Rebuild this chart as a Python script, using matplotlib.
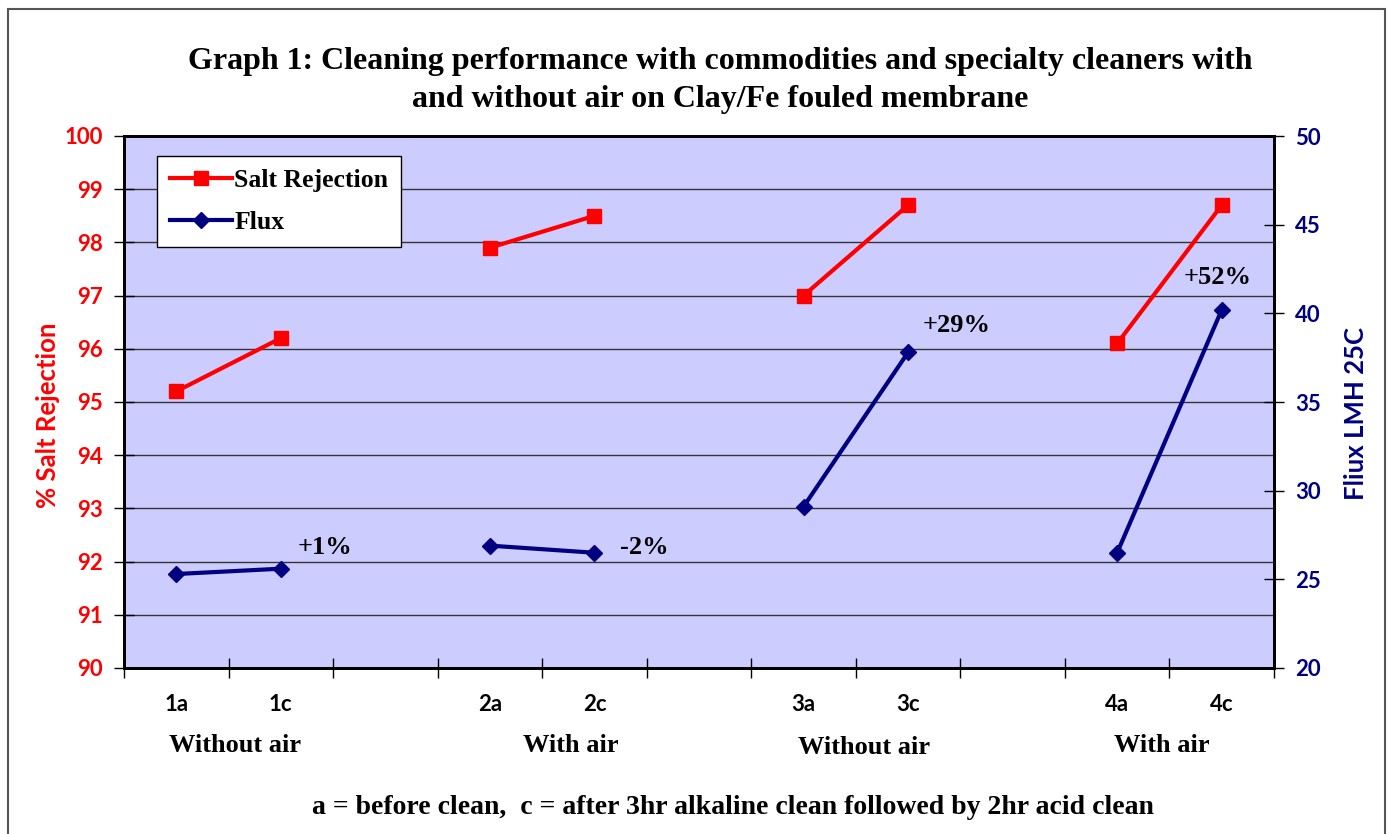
import matplotlib
matplotlib.use('Agg')
import matplotlib.pyplot as plt
import matplotlib.transforms as mtransforms
from matplotlib.patches import Rectangle
import numpy as np

# data
categories = ['1a', '1c', '', '2a', '2c', '', '3a', '3c', '', '4a', '4c']
salt_rej = [95.2, 96.2, None, 97.9, 98.5, None, 97.0, 98.7, None, 96.1, 98.7]
flux = [25.3, 25.6, None, 26.9, 26.5, None, 29.1, 37.8, None, 26.5, 40.2]
groups = ['Without air', 'With air', 'Without air', 'With air']
group_x = [0.56, 3.77, 6.58, 9.43]
changes = ['+1%', '-2%', '+29%', '+52%']
change_idx = [1, 4, 7, 10]

serif = 'Liberation Serif'
sans = 'Lato'
navy = '#000080'

fig = plt.figure(figsize=(13.93, 8.34), dpi=100)
fig.patches.append(Rectangle((8/1393, -0.05), 1377/1393, 1 - 9/834 + 0.05,
                             transform=fig.transFigure, fill=False,
                             edgecolor='#555555', linewidth=1.5))

ax = fig.add_axes([124/1393, 1 - 668/834, 1150/1393, 532/834])
ax.set_facecolor('#CCCCFF')
ax2 = ax.twinx()

x = np.arange(len(categories))
sr = np.array([np.nan if v is None else v for v in salt_rej], dtype=float)
fl = np.array([np.nan if v is None else v for v in flux], dtype=float)

l1, = ax.plot(x, sr, color='red', lw=3, marker='s', markersize=10,
              label='Salt Rejection', zorder=3)
l2, = ax2.plot(x, fl, color=navy, lw=3, marker='D', markersize=8,
               label='Flux', zorder=3)

ax.set_xlim(-0.5, len(categories) - 0.5)
ax.set_ylim(90, 100)
ax2.set_ylim(20, 50)
ax.set_yticks(np.arange(90, 101, 1))
ax2.set_yticks(np.arange(20, 51, 5))
ax.grid(axis='y', color='#333333', lw=1)
ax.set_axisbelow(True)

ax.set_xticks(x)
ax.set_xticklabels(categories, fontfamily=sans, fontweight='bold', fontsize=16)
ax.tick_params(axis='x', which='major', length=0, pad=19)
ax.set_xticks(np.arange(-0.5, len(categories), 1), minor=True)
ax.tick_params(axis='x', which='minor', direction='inout', length=14, width=1)
ax.tick_params(axis='y', direction='inout', length=14, width=1, labelcolor='red',
               labelsize=16, pad=8)
ax2.tick_params(axis='y', direction='inout', length=14, width=1, labelcolor=navy,
                labelsize=16, pad=8)
for lab in ax.get_yticklabels() + ax2.get_yticklabels():
    lab.set_fontfamily(sans)
    lab.set_fontweight('bold')

for a in (ax, ax2):
    for s in a.spines.values():
        s.set_linewidth(2)

ax.set_ylabel('% Salt Rejection', color='red', fontfamily=sans, fontweight='bold',
              fontsize=18.5)
ax2.set_ylabel('Fliux LMH 25C', color=navy, fontfamily=sans, fontweight='bold',
               fontsize=18.5)
ax.yaxis.set_label_coords(-0.056, 0.476)
ax2.yaxis.set_label_coords(1.061, 0.478)

# group labels under each pair
trans = mtransforms.blended_transform_factory(ax.transData, fig.transFigure)
group_y = [1 - 746/834, 1 - 745/834, 1 - 747/834, 1 - 745/834]
for i, g in enumerate(groups):
    ax.text(group_x[i], group_y[i], g, transform=trans, ha='center', va='center',
            fontfamily=serif, fontweight='bold', fontsize=19)

# percentage changes next to the flux points
offsets = [(0.42, 1.2), (0.48, 0.27), (0.46, 1.5), (-0.04, 1.8)]
for i, c in enumerate(changes):
    xi = change_idx[i]
    ax2.text(xi + offsets[i][0], fl[xi] + offsets[i][1], c, ha='center',
             va='center', fontfamily=serif, fontweight='bold', fontsize=19,
             zorder=5)

leg = ax.legend(handles=[l1, l2], loc='upper left',
                bbox_to_anchor=(33/1150, 1 - 20/532), frameon=True, fancybox=False,
                prop={'family': serif, 'weight': 'bold', 'size': 18.5},
                handlelength=2.4, handletextpad=0.1, borderpad=0.5,
                labelspacing=0.75, borderaxespad=0)
leg.get_frame().set_edgecolor('black')
leg.get_frame().set_linewidth(1)
leg.get_frame().set_facecolor('white')
leg.get_frame().set_alpha(1)

fig.text(720/1393, 1 - 61/834, 'Graph 1: Cleaning performance with commodities and specialty cleaners with',
         ha='center', va='center', fontfamily=serif, fontweight='bold', fontsize=23)
fig.text(720/1393, 1 - 99/834, 'and without air on Clay/Fe fouled membrane',
         ha='center', va='center', fontfamily=serif, fontweight='bold', fontsize=23)
fig.text(733/1393, 1 - 808/834,
         'a = before clean,  c = after 3hr alkaline clean followed by 2hr acid clean',
         ha='center', va='center', fontfamily=serif, fontweight='bold', fontsize=20)

fig.savefig('out.png', dpi=100)
